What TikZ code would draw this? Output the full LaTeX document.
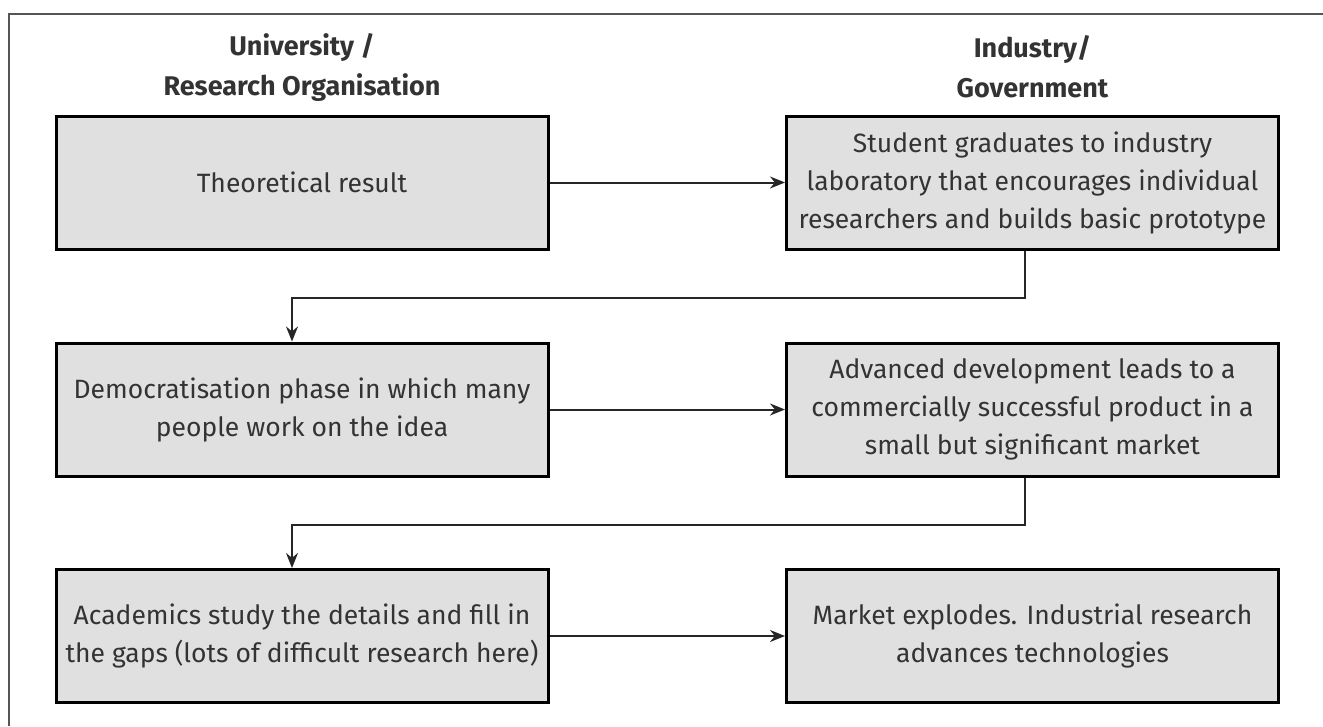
\documentclass[tikz,border=0pt]{standalone}
\usepackage{fontspec}
\setmainfont{Fira Sans}
\usetikzlibrary{arrows.meta,calc}
\definecolor{boxfill}{HTML}{E0E0E0}
\definecolor{txt}{HTML}{333333}
\definecolor{framecol}{HTML}{555555}
\tikzset{
  stagebox/.style={draw=black, fill=boxfill, line width=3pt, minimum width=492pt, minimum height=133pt, inner sep=0pt, align=center, text=txt, font=\fontsize{26.5}{38}\selectfont},
  header/.style={align=center, text=txt, font=\fontsize{27}{40}\selectfont\bfseries},
  arr/.style={line width=2pt, draw=black!85, -{Stealth[length=15pt,width=12pt]}},
}
\begin{document}
\begin{tikzpicture}[x=1pt,y=-1pt]
\useasboundingbox (0,0) rectangle (1323,726);
\draw[framecol, line width=2pt] (8.5,726) -- (8.5,13.5) -- (1323,13.5);
\node[header] (h1) at (302,67) {University /\\Research Organisation};
\node[header] (h2) at (1032.5,67) {Industry/\\Government};
\node[stagebox] (b1) at (302,182.5) {Theoretical result};
\node[stagebox] (b2) at (1032.5,182.5) {Student graduates to industry\\laboratory that encourages individual\\researchers and builds basic prototype};
\node[stagebox] (b3) at (302,409.5) {Democratisation phase in which many\\people work on the idea};
\node[stagebox] (b4) at (1032.5,409.5) {Advanced development leads to a\\commercially successful product in a\\small but significant market};
\node[stagebox] (b5) at (302,636) {Academics study the details and fill in\\the gaps (lots of difficult research here)};
\node[stagebox] (b6) at (1032.5,636) {Market explodes. Industrial research\\advances technologies};
\draw[arr] (b1.east) -- (b2.west);
\draw[arr] ([xshift=-7.5pt]b2.south) -- ++(0,47) -| ([xshift=-10pt]b3.north);
\draw[arr] (b3.east) -- (b4.west);
\draw[arr] ([xshift=-7.5pt]b4.south) -- ++(0,47) -| ([xshift=-10pt]b5.north);
\draw[arr] (b5.east) -- (b6.west);
\end{tikzpicture}
\end{document}
